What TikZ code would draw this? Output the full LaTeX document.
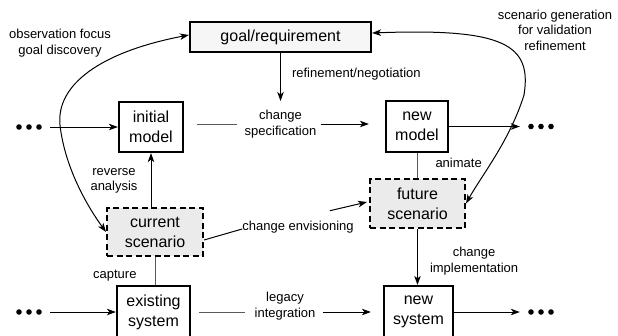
\documentclass[tikz,border=0pt]{standalone}
\usepackage{fontspec}
\setmainfont{Liberation Sans}
\usetikzlibrary{arrows.meta,calc}
\begin{document}
\begin{tikzpicture}[x=1pt,y=-1pt,
  boxtext/.style={font=\fontsize{16}{20}\selectfont, align=center, inner sep=0pt},
  solidbox/.style={boxtext, draw, line width=2.2pt, fill=white},
  goalbox/.style={solidbox, fill=gray!7},
  scenbox/.style={boxtext, draw, line width=2pt, dash pattern=on 6pt off 3.5pt, fill=gray!16},
  lbl/.style={font=\fontsize{13}{15.5}\selectfont, align=center, inner sep=1pt},
  tip/.tip={Stealth[length=9pt,width=6.5pt,inset=2.5pt]},
  arr/.style={-tip, line width=1pt},
  dblarr/.style={tip-tip, line width=1pt},
  link/.style={line width=1pt, draw=black!65},
  dotrow/.style={minimum width=26pt, minimum height=7pt, inner sep=0pt,
    path picture={\foreach \dx in {-10,0,10}
      \fill ([xshift=\dx pt]path picture bounding box.center) circle[radius=2.8pt];}}
]
\useasboundingbox (0,0) rectangle (618,335);
\clip (0,0) rectangle (618,335);

% boxes
\node[goalbox, minimum width=181pt, minimum height=30pt] (goal) at (280.5,37) {goal/requirement};
\node[solidbox, minimum width=64pt, minimum height=50pt] (init) at (151,127) {initial\\model};
\node[solidbox, minimum width=62pt, minimum height=51pt] (newm) at (417,126.5) {new\\model};
\node[scenbox, minimum width=96pt, minimum height=48pt] (cur) at (155,232) {current\\scenario};
\node[scenbox, minimum width=95pt, minimum height=49pt] (fut) at (417.5,203.5) {future\\scenario};
\node[solidbox, minimum width=73pt, minimum height=52pt] (exist) at (153.5,312) {existing\\system};
\node[solidbox, minimum width=69pt, minimum height=52pt] (newsys) at (418.5,312) {new\\system};

% continuation dots
\node[dotrow] (dl1) at (29,127) {};
\node[dotrow] (dr1) at (541,126.5) {};
\node[dotrow] (dl2) at (29,312) {};
\node[dotrow] (dr2) at (541,312) {};

% labels standing between connector segments
\node[lbl] (cs) at (280.5,124) {change\\specification};
\node[lbl] (li) at (285,306) {legacy\\integration};
\node[lbl] (ce) at (298,227) {change envisioning};
\node[lbl] (obs) at (60,43) {observation focus\\goal discovery};
\node[lbl] (gen) at (555,30) {scenario generation\\for validation\\refinement};

% model row
\draw[arr, shorten <=8pt] (dl1) -- (init);
\draw[arr, shorten >=8pt] (newm) -- (dr1);
\draw[link, shorten <=13pt, shorten >=7pt] (init.east |- cs.west) -- (cs.west);
\draw[arr, shorten <=4pt, shorten >=16pt] (cs.east) -- (cs.east -| newm.west);
\draw[arr, shorten >=8pt] (goal) -- (cs)
  node[lbl, pos=0.42, anchor=west, xshift=10pt, yshift=2pt] {refinement/negotiation};

% system row
\draw[arr, shorten <=8pt] (dl2) -- (exist);
\draw[arr, shorten >=8pt] (newsys) -- (dr2);
\draw[link, shorten <=8pt, shorten >=8pt] (exist.east) -- (exist.east -| li.west);
\draw[arr, shorten <=6pt, shorten >=12pt] (li.east |- newsys.west) -- (newsys.west);

% vertical links
\draw[arr] (init.south |- cur.north) -- (init.south)
  node[lbl, midway, anchor=east, xshift=-12pt, yshift=-1pt] {reverse\\analysis};
\draw[link] (exist.north -| cur.south) -- (cur.south)
  node[lbl, midway, anchor=east, xshift=-17pt, yshift=-5pt] {capture};
\draw[link] (newm.south) -- (newm.south |- fut.north)
  node[lbl, midway, anchor=west, xshift=17pt, yshift=3pt] {animate};
\draw[arr] (fut.south) -- (fut.south |- newsys.north)
  node[lbl, midway, anchor=west, xshift=11pt, yshift=-4pt] {change\\implementation};

% envisioning
\draw[line width=1pt] ($(cur.east)+(0,8)$) -- ($(ce.west)+(1,2)$);
\draw[arr] ($(ce.north east)+(-25,-9)$) -- ($(fut.west)+(-2,-1.5)$);

% feedback curves
\draw[dblarr] (cur.west) .. controls (90,210) and (65,170) .. (60,125)
  .. controls (56,85) and (100,52) .. ($(goal.west)+(0,-2)$);
\draw[dblarr] (fut.east) .. controls (482,175) and (510,140) .. (524,95)
  .. controls (532,45) and (505,28) .. ($(goal.east)+(0,-4)$);
\end{tikzpicture}
\end{document}
